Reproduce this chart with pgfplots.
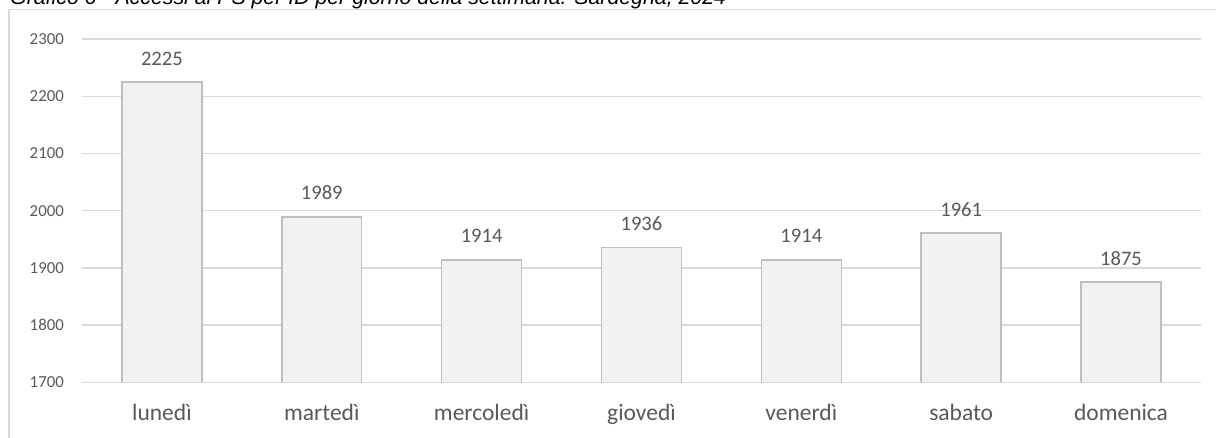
\documentclass[border=0pt]{standalone}
\usepackage{pgfplots}
\pgfplotsset{compat=1.18}
\usepackage{fontspec}
\setmainfont{Carlito}
\newfontfamily\arialfont{Liberation Sans}
\definecolor{txt}{HTML}{595959}
\definecolor{gridgray}{HTML}{D9D9D9}
\definecolor{barfill}{HTML}{F2F2F2}
\definecolor{bardraw}{HTML}{BFBFBF}
\begin{document}
\begin{tikzpicture}[x=1pt,y=1pt]
\useasboundingbox (0,0) rectangle (1216,437);
\draw[gridgray, line width=1.3pt] (9,-20) -- (9,427.5) -- (1240,427.5);
\node[anchor=base west, inner sep=0pt, font=\arialfont\itshape\fontsize{21.3}{24}\selectfont] at (10,432) {Grafico 6 - Accessi al PS per ID per giorno della settimana. Sardegna, 2024};
\begin{axis}[
  at={(82pt,54.7pt)}, anchor=south west,
  scale only axis, width=1119pt, height=343.2pt,
  xmin=-0.5, xmax=6.5, ymin=1700, ymax=2300,
  ytick={1700,1800,1900,2000,2100,2200,2300},
  xtick={0,1,2,3,4,5,6},
  xticklabels={lunedì,martedì,mercoledì,giovedì,venerdì,sabato,domenica},
  /pgf/number format/assume math mode=true,
  /pgf/number format/set thousands separator={},
  axis line style={draw=none},
  major tick length=0pt,
  ymajorgrids, grid style={gridgray, line width=1.5pt},
  xticklabel style={anchor=base, inner sep=0pt, yshift=-37.7pt, font=\fontsize{23.5}{26}\selectfont, text=txt},
  yticklabel style={anchor=east, inner sep=0pt, xshift=-18pt, font=\fontsize{16.8}{19}\selectfont, text=txt},
  ybar, bar width=0.5, bar shift=0pt,
  nodes near coords,
  every node near coord/.append style={anchor=base, inner sep=0pt, yshift=17pt, font=\fontsize{20.6}{23}\selectfont, text=txt},
]
\addplot[fill=barfill, draw=bardraw, line width=1.5pt] coordinates {
  (0,2225) (1,1989) (2,1914) (3,1936) (4,1914) (5,1961) (6,1875)
};
\draw[gridgray, line width=1.5pt] (axis cs:-0.5,1700) -- (axis cs:6.5,1700);
\end{axis}
\end{tikzpicture}
\end{document}
